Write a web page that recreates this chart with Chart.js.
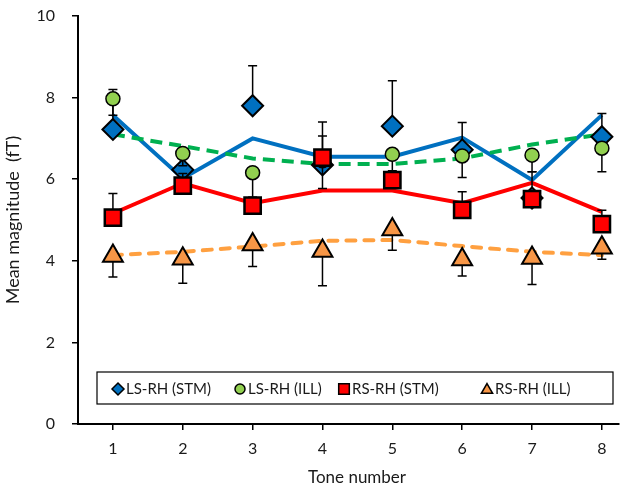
<!DOCTYPE html>
<html>
<head>
<meta charset="utf-8">
<script src="https://cdn.jsdelivr.net/npm/chart.js@4/dist/chart.umd.min.js"></script>
<style>
  body { margin: 0; background: #fff; }
  #wrap { width: 633px; height: 491px; }
</style>
</head>
<body>
<div id="wrap"><canvas id="chart1" width="633" height="491"></canvas></div>
<script>
// tone numbers on the x axis
var tones = [1, 2, 3, 4, 5, 6, 7, 8];
var yTicks = [0, 2, 4, 6, 8, 10];

// measured means
var lsStm = [7.22, 6.23, 7.80, 6.35, 7.30, 6.72, 5.54, 7.04];
var lsIll = [7.97, 6.63, 6.16, 6.45, 6.61, 6.57, 6.59, 6.76];
var rsStm = [5.06, 5.84, 5.35, 6.53, 5.98, 5.25, 5.51, 4.90];
var rsIll = [4.12, 4.05, 4.40, 4.24, 4.77, 4.03, 4.07, 4.32];

// one-sided error bars
var lsStmErrUp = [0.98, 0.35, 0.98, 1.05, 1.11, 0.67, 0.64, 0.57];
var lsIllErrDown = [0.40, 0.30, 0.60, 0.68, 0.40, 0.53, 0.41, 0.58];
var rsStmErrUp = [0.59, 0.30, 0.20, 0.53, 0.20, 0.44, 0.20, 0.34];
var rsIllErrDown = [0.52, 0.60, 0.54, 0.85, 0.51, 0.40, 0.65, 0.28];

// fitted curves
var lsStmFit = [7.57, 6.02, 7.00, 6.55, 6.55, 7.02, 5.98, 7.57];
var lsIllFit = [7.10, 6.81, 6.51, 6.37, 6.37, 6.51, 6.85, 7.10];
var rsStmFit = [5.16, 5.90, 5.41, 5.72, 5.72, 5.41, 5.91, 5.20];
var rsIllFit = [4.14, 4.22, 4.35, 4.49, 4.51, 4.36, 4.22, 4.14];

var FONT = 'Lato, "Liberation Sans", sans-serif';
var TXT = '#1a1a1a';

function pts(arr) {
    return tones.map(function(t, i) { return { x: t, y: arr[i] }; });
}

// error bars, drawn just before the markers of their series
var errorBars = {
    id: 'errorBars',
    beforeDatasetDraw: function(chart, args) {
        var ds = chart.data.datasets[args.index];
        if (!ds.errUp && !ds.errDown) return;
        var ys = chart.scales.y;
        var ctx = chart.ctx;
        ctx.save();
        ctx.strokeStyle = '#000';
        ctx.lineWidth = 1.5;
        args.meta.data.forEach(function(pt, i) {
            var v = ds.data[i].y;
            var end = ds.errUp ? v + ds.errUp[i] : v - ds.errDown[i];
            var y0 = ys.getPixelForValue(v);
            var y1 = ys.getPixelForValue(end);
            ctx.beginPath();
            ctx.moveTo(pt.x, y0);
            ctx.lineTo(pt.x, y1);
            ctx.moveTo(pt.x - 4.5, y1);
            ctx.lineTo(pt.x + 4.5, y1);
            ctx.stroke();
        });
        ctx.restore();
    }
};

// boxed legend inside the plot, plus the x title (centred like the original)
var boxLegend = {
    id: 'boxLegend',
    afterDraw: function(chart) {
        var ctx = chart.ctx;
        var ca = chart.chartArea;
        var left = ca.left + 19, top = ca.bottom - 52, w = 516, h = 32;
        ctx.save();
        ctx.fillStyle = '#fff';
        ctx.fillRect(left, top, w, h);
        ctx.strokeStyle = '#000';
        ctx.lineWidth = 1.2;
        ctx.strokeRect(left, top, w, h);
        ctx.font = '15px ' + FONT;
        ctx.textBaseline = 'middle';
        var items = [
            { text: 'LS-RH (STM)', style: 'rectRot', r: 6, fill: '#0070C0', dx: 21 },
            { text: 'LS-RH (ILL)', style: 'circle', r: 5, fill: '#92D050', dx: 143 },
            { text: 'RS-RH (STM)', style: 'rect', r: 7.5, fill: '#FF0000', dx: 247 },
            { text: 'RS-RH (ILL)', style: 'triangle', r: 6.5, fill: '#F79646', dx: 390 }
        ];
        var cy = top + h / 2 + 1;
        items.forEach(function(it) {
            var x = left + it.dx;
            ctx.fillStyle = it.fill;
            ctx.strokeStyle = '#000';
            ctx.lineWidth = 1.5;
            Chart.helpers.drawPoint(ctx, { pointStyle: it.style, radius: it.r, borderWidth: 1.5 }, x, cy + (it.style === 'triangle' ? 1 : 0));
            ctx.fillStyle = TXT;
            ctx.fillText(it.text, x + 8, cy);
        });

        ctx.font = '17px ' + FONT;
        ctx.textAlign = 'center';
        ctx.fillStyle = TXT;
        ctx.fillText('Tone number', 357, 478);
        ctx.restore();
    }
};

var ctx = document.getElementById('chart1').getContext('2d');
var myChart = new Chart(ctx, {
    type: 'scatter',
    data: {
        datasets: [
            { label: 'RS-RH (ILL)', data: pts(rsIll), errDown: rsIllErrDown, order: 1,
              pointStyle: 'triangle', pointRadius: 11.5, pointBackgroundColor: '#F79646',
              pointBorderColor: '#000', pointBorderWidth: 2, showLine: false },
            { label: 'RS-RH (STM)', data: pts(rsStm), errUp: rsStmErrUp, order: 2,
              pointStyle: 'rect', pointRadius: 11.5, pointBackgroundColor: '#FF0000',
              pointBorderColor: '#000', pointBorderWidth: 2.5, showLine: false },
            { label: 'LS-RH (ILL)', data: pts(lsIll), errDown: lsIllErrDown, order: 3,
              pointStyle: 'circle', pointRadius: 7, pointBackgroundColor: '#92D050',
              pointBorderColor: '#000', pointBorderWidth: 1.5, showLine: false },
            { label: 'LS-RH (STM)', data: pts(lsStm), errUp: lsStmErrUp, order: 4,
              pointStyle: 'rectRot', pointRadius: 10.5, pointBackgroundColor: '#0070C0',
              pointBorderColor: '#000', pointBorderWidth: 2, showLine: false },
            // fitted lines
            { label: 'fit RS ILL', data: pts(rsIllFit), order: 5, showLine: true, pointRadius: 0,
              borderColor: '#FFA040', borderWidth: 4, borderDash: [9, 9], borderCapStyle: 'round' },
            { label: 'fit RS STM', data: pts(rsStmFit), order: 6, showLine: true, pointRadius: 0,
              borderColor: '#FF0000', borderWidth: 4 },
            { label: 'fit LS ILL', data: pts(lsIllFit), order: 7, showLine: true, pointRadius: 0,
              borderColor: '#00B050', borderWidth: 4, borderDash: [12, 7] },
            { label: 'fit LS STM', data: pts(lsStmFit), order: 8, showLine: true, pointRadius: 0,
              borderColor: '#0070C0', borderWidth: 4 }
        ]
    },
    options: {
        responsive: false,
        animation: false,
        devicePixelRatio: 1,
        layout: { padding: { top: 16, right: 0, bottom: 0, left: 0 } },
        plugins: {
            legend: { display: false },
            tooltip: { enabled: false }
        },
        scales: {
            x: {
                type: 'linear',
                min: 0.5,
                max: 8.245,
                afterBuildTicks: function(s) { s.ticks = tones.map(function(v) { return { value: v }; }); },
                afterFit: function(s) { s.height = 67; s.paddingLeft = 0; s.paddingRight = 0; },
                grid: { display: true, drawOnChartArea: false, drawTicks: true, tickLength: 6, color: '#000', lineWidth: 1.5 },
                border: { color: '#000', width: 2 },
                ticks: { color: TXT, padding: 9, font: { family: FONT, size: 16 } },
                title: { display: false }
            },
            y: {
                min: 0,
                max: 10,
                afterBuildTicks: function(s) { s.ticks = yTicks.map(function(v) { return { value: v }; }); },
                afterFit: function(s) { s.width = 78; s.paddingTop = 0; s.paddingBottom = 0; },
                grid: { display: true, drawOnChartArea: false, drawTicks: true, tickLength: 6, color: '#000', lineWidth: 1.5 },
                border: { color: '#000', width: 2 },
                ticks: { color: TXT, padding: 17, font: { family: FONT, size: 16 } },
                title: { display: true, text: 'Mean magnitude  (fT)', color: TXT, padding: { top: 2, bottom: 0 },
                         font: { family: FONT, size: 18 } }
            }
        }
    },
    plugins: [errorBars, boxLegend]
});
</script>
</body>
</html>
